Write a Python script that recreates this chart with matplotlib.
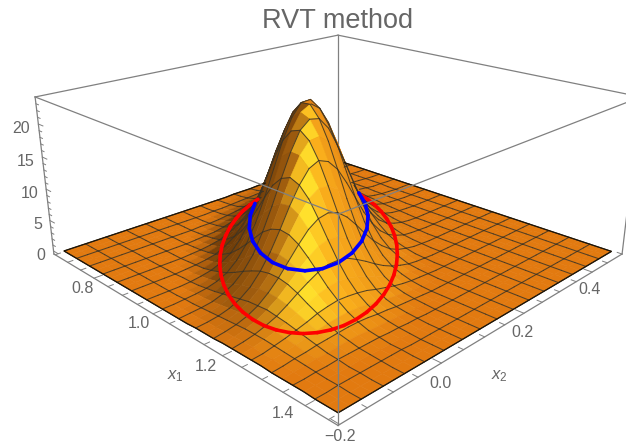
import matplotlib
matplotlib.use("Agg")
import matplotlib.pyplot as plt
import numpy as np
from matplotlib.colors import LinearSegmentedColormap
from mpl_toolkits.mplot3d import proj3d
from mpl_toolkits.mplot3d.art3d import Line3DCollection

plt.rcParams["font.family"] = ["Liberation Sans", "DejaVu Sans"]
plt.rcParams["mathtext.fontset"] = "custom"
plt.rcParams["mathtext.it"] = "Liberation Sans:italic"
plt.rcParams["mathtext.rm"] = "Liberation Sans"

# --- Data ---
x1_nodes = np.linspace(0.66, 1.455, 33)
x2_nodes = np.linspace(-0.19, 0.485, 33)

# heights on a grid of half mesh cells, rows go with x1, columns with x2.
# each row starts at column z_first[row], everything else on the row is flat (0)
z_first = [18, 16, 14, 13, 11, 10, 9, 8, 7, 6, 5, 4, 4, 3, 2, 2, 1, 1, 0, 0, 0, 0, 0, 0, 0, 0, 0, 0, 0, 0, 2, 0, 0]
z_rows = [
    [.1, .1, .1, .2, .2, .2, .2, .2, .1, .1, .1, .1],
    [.1, .1, .2, .2, .3, .3, .4, .4, .3, .3, .2, .2, .1, .1],
    [.1, .1, .2, .3, .4, .5, .6, .7, .7, .7, .6, .5, .4, .3, .2, .1, .1],
    [.1, .2, .3, .4, .6, .8, 1.0, 1.1, 1.2, 1.2, 1.1, .9, .7, .5, .4, .2, .1, .1],
    [.1, .1, .2, .4, .6, .9, 1.2, 1.5, 1.8, 1.9, 2.0, 1.8, 1.6, 1.3, 1.0, .7, .4, .3, .1, .1],
    [.1, .1, .3, .5, .8, 1.2, 1.7, 2.2, 2.6, 3.0, 3.1, 3.0, 2.7, 2.2, 1.7, 1.2, .8, .5, .3, .2, .1],
    [.1, .2, .3, .6, 1.0, 1.5, 2.2, 3.0, 3.7, 4.3, 4.6, 4.6, 4.3, 3.7, 2.9, 2.2, 1.5, .9, .6, .3, .2, .1],
    [.1, .2, .4, .7, 1.2, 1.9, 2.8, 3.8, 4.9, 5.9, 6.5, 6.7, 6.4, 5.7, 4.6, 3.5, 2.5, 1.6, 1.0, .6, .3, .1, .1],
    [.1, .2, .4, .7, 1.3, 2.1, 3.3, 4.7, 6.2, 7.7, 8.7, 9.2, 9.0, 8.2, 6.9, 5.4, 3.9, 2.7, 1.7, 1.0, .5, .3, .1, .1],
    [.1, .2, .4, .8, 1.4, 2.3, 3.7, 5.4, 7.4, 9.4, 11.0, 11.9, 12.1, 11.3, 9.8, 7.9, 5.9, 4.1, 2.6, 1.6, .9, .4, .2, .1],
    [.1, .2, .4, .7, 1.4, 2.4, 3.9, 5.9, 8.3, 10.8, 13.1, 14.6, 15.2, 14.6, 13.1, 10.8, 8.3, 5.9, 3.9, 2.4, 1.4, .7, .4, .2, .1],
    [.1, .1, .3, .7, 1.3, 2.3, 3.9, 6.1, 8.8, 11.8, 14.6, 16.9, 18.0, 17.9, 16.5, 14.1, 11.1, 8.2, 5.6, 3.5, 2.1, 1.1, .6, .3, .1],
    [.1, .3, .6, 1.2, 2.1, 3.7, 5.9, 8.8, 12.1, 15.5, 18.4, 20.2, 20.7, 19.6, 17.2, 14.0, 10.6, 7.4, 4.8, 2.9, 1.6, .8, .4, .2, .1],
    [.1, .2, .5, 1.0, 1.9, 3.3, 5.4, 8.3, 11.8, 15.5, 18.9, 21.4, 22.5, 21.9, 19.8, 16.6, 13.0, 9.4, 6.3, 3.9, 2.2, 1.2, .6, .3, .1],
    [.1, .2, .4, .8, 1.5, 2.8, 4.7, 7.4, 10.8, 14.6, 18.4, 21.4, 23.2, 23.3, 21.6, 18.7, 15.0, 11.1, 7.7, 4.9, 2.9, 1.6, .8, .4, .2, .1],
    [.1, .3, .6, 1.2, 2.2, 3.8, 6.2, 9.4, 13.1, 16.9, 20.2, 22.5, 23.3, 22.3, 19.8, 16.3, 12.5, 8.9, 5.8, 3.6, 2.0, 1.1, .5, .2, .1],
    [.1, .2, .4, .9, 1.7, 3.0, 4.9, 7.7, 11.0, 14.6, 18.0, 20.7, 21.9, 21.6, 19.8, 16.8, 13.2, 9.7, 6.5, 4.1, 2.4, 1.3, .7, .3, .1],
    [.1, .3, .6, 1.2, 2.2, 3.7, 5.9, 8.7, 11.9, 15.2, 17.9, 19.6, 19.8, 18.7, 16.3, 13.2, 9.9, 6.9, 4.5, 2.7, 1.5, .8, .4, .2, .1],
    [.1, .2, .4, .8, 1.5, 2.6, 4.3, 6.5, 9.2, 12.1, 14.6, 16.5, 17.2, 16.6, 15.0, 12.5, 9.7, 6.9, 4.6, 2.8, 1.6, .9, .4, .2, .1],
    [.1, .2, .5, 1.0, 1.8, 3.0, 4.6, 6.7, 9.0, 11.3, 13.1, 14.1, 14.0, 13.0, 11.1, 8.9, 6.5, 4.5, 2.8, 1.7, .9, .5, .2, .1],
    [.1, .3, .6, 1.1, 1.9, 3.1, 4.6, 6.4, 8.2, 9.8, 10.8, 11.1, 10.6, 9.4, 7.7, 5.8, 4.1, 2.7, 1.6, .9, .5, .2, .1],
    [.2, .3, .7, 1.2, 2.0, 3.0, 4.3, 5.7, 6.9, 7.9, 8.3, 8.2, 7.4, 6.3, 4.9, 3.6, 2.4, 1.5, .9, .5, .2, .1],
    [.2, .4, .7, 1.2, 1.8, 2.7, 3.7, 4.6, 5.4, 5.9, 5.9, 5.6, 4.8, 3.9, 2.9, 2.0, 1.3, .8, .4, .2, .1],
    [.2, .4, .7, 1.1, 1.6, 2.2, 2.9, 3.5, 3.9, 4.1, 3.9, 3.5, 2.9, 2.2, 1.6, 1.1, .7, .4, .2, .1],
    [.2, .3, .6, .9, 1.3, 1.7, 2.2, 2.5, 2.7, 2.6, 2.4, 2.1, 1.6, 1.2, .8, .5, .3, .2, .1],
    [.2, .3, .5, .7, 1.0, 1.2, 1.5, 1.6, 1.7, 1.6, 1.4, 1.1, .8, .6, .4, .2, .1, .1],
    [.1, .2, .4, .5, .7, .8, .9, 1.0, 1.0, .9, .7, .6, .4, .3, .2, .1],
    [.1, .2, .3, .4, .4, .5, .6, .6, .5, .4, .4, .3, .2, .1, .1],
    [.1, .1, .2, .2, .3, .3, .3, .3, .3, .2, .2, .1, .1],
    [.1, .1, .1, .1, .1, .2, .2, .1, .1, .1, .1],
    [.1, .1, .1, .1, .1, .1, .1],
    [],
    [],
]

red_x1 = [1.1425, 1.1743, 1.2034, 1.2292, 1.2514, 1.2696, 1.2834, 1.2927, 1.2972, 1.2971, 1.2919, 1.2822,
          1.2679, 1.2491, 1.2265, 1.2004, 1.1709, 1.1389, 1.1049, 1.0694, 1.0328, 0.9960, 0.9595, 0.9241,
          0.8900, 0.8582, 0.8291, 0.8033, 0.7811, 0.7629, 0.7491, 0.7398, 0.7353, 0.7354, 0.7406, 0.7503,
          0.7646, 0.7834, 0.8060, 0.8321, 0.8616, 0.8936, 0.9276, 0.9631, 0.9998, 1.0365, 1.0730, 1.1084, 1.1425]
red_x2 = [0.2209, 0.1918, 0.1617, 0.1306, 0.0993, 0.0681, 0.0378, 0.0089, -0.0185, -0.0436, -0.0658, -0.0850,
          -0.1011, -0.1132, -0.1216, -0.1260, -0.1260, -0.1222, -0.1143, -0.1025, -0.0870, -0.0681, -0.0461, -0.0213,
          0.0058, 0.0349, 0.0650, 0.0961, 0.1274, 0.1586, 0.1889, 0.2179, 0.2452, 0.2703, 0.2925, 0.3117,
          0.3278, 0.3399, 0.3483, 0.3527, 0.3527, 0.3489, 0.3410, 0.3292, 0.3137, 0.2948, 0.2728, 0.2480, 0.2209]
red_z = 1.0

blue_x1 = [1.1004, 1.1435, 1.1778, 1.2011, 1.2119, 1.2094, 1.1936, 1.1658, 1.1278, 1.0822, 1.0320, 0.9809,
           0.9321, 0.8890, 0.8547, 0.8314, 0.8206, 0.8231, 0.8389, 0.8667, 0.9047, 0.9503, 1.0004, 1.0516, 1.1004]
blue_x2 = [0.1851, 0.1434, 0.0999, 0.0572, 0.0183, -0.0141, -0.0378, -0.0512, -0.0534, -0.0442, -0.0243, 0.0049,
           0.0416, 0.0833, 0.1268, 0.1695, 0.2084, 0.2408, 0.2645, 0.2779, 0.2801, 0.2709, 0.2510, 0.2218, 0.1851]
blue_z = 5.8

x1_ticks = [0.8, 1.0, 1.2, 1.4]
x2_ticks = [-0.2, 0.0, 0.2, 0.4]
z_ticks = [0, 5, 10, 15, 20]

# --- View ---
x1_lim = (0.645, 1.47)
x2_lim = (-0.203, 0.5)
z_lim = (-0.5, 24.0)
elev, azim = 20.5, -45
box_h = 0.404
focal = 0.286
mesh_step = 2
grey = "#808080"
text_grey = "#666666"

fig = plt.figure(figsize=(6.3, 4.47), dpi=100)
ax = fig.add_axes([34 / 630, -35 / 447, 592 / 630, 592 / 447], projection="3d", computed_zorder=False)
ax.set_axis_off()
ax.set_proj_type("persp", focal_length=focal)
ax.view_init(elev=elev, azim=azim)
ax.set_box_aspect((1, 1, box_h))
ax.set_xlim(*x1_lim, view_margin=0)
ax.set_ylim(*x2_lim, view_margin=0)
ax.set_zlim(*z_lim, view_margin=0)

Z = np.zeros((len(x1_nodes), len(x2_nodes)))
for i, row in enumerate(z_rows):
    Z[i, z_first[i]:z_first[i] + len(row)] = row
X1, X2 = np.meshgrid(x1_nodes, x2_nodes, indexing="ij")

# world sizes of the box, needed for normals and the hidden line test
side = 0.648
x1_mid, x2_mid, z_mid = np.mean(x1_lim), np.mean(x2_lim), np.mean(z_lim)
x1_half, x2_half, z_half = np.ptp(x1_lim) / 2, np.ptp(x2_lim) / 2, np.ptp(z_lim) / 2


def to_box(x, y, z):
    return np.array([(x - x1_mid) / x1_half * side, (y - x2_mid) / x2_half * side, (z - z_mid) / z_half * side * box_h])


def height(x, y):
    i = np.clip(np.searchsorted(x1_nodes, x) - 1, 0, len(x1_nodes) - 2)
    j = np.clip(np.searchsorted(x2_nodes, y) - 1, 0, len(x2_nodes) - 2)
    a = (x - x1_nodes[i]) / (x1_nodes[i + 1] - x1_nodes[i])
    b = (y - x2_nodes[j]) / (x2_nodes[j + 1] - x2_nodes[j])
    if a < 0 or a > 1 or b < 0 or b > 1:
        return -1.0
    return (Z[i, j] * (1 - a) * (1 - b) + Z[i + 1, j] * a * (1 - b) + Z[i, j + 1] * (1 - a) * b + Z[i + 1, j + 1] * a * b)


dist = 10 * focal
eye = dist * np.array([np.cos(np.radians(elev)) * np.cos(np.radians(azim)),
                       np.cos(np.radians(elev)) * np.sin(np.radians(azim)),
                       np.sin(np.radians(elev))])


def hidden(x, y, z):
    p = to_box(x, y, z)
    for t in np.linspace(0.01, 0.5, 70):
        q = p + t * (eye - p)
        xq = q[0] / side * x1_half + x1_mid
        yq = q[1] / side * x2_half + x2_mid
        zq = q[2] / (side * box_h) * z_half + z_mid
        if zq < height(xq, yq) - 0.3:
            return True
    return False


def visible_segments(xs, ys, zs):
    segs = []
    for k in range(len(xs) - 1):
        if not hidden((xs[k] + xs[k + 1]) / 2, (ys[k] + ys[k + 1]) / 2, (zs[k] + zs[k + 1]) / 2):
            segs.append([(xs[k], ys[k], zs[k]), (xs[k + 1], ys[k + 1], zs[k + 1])])
    return segs


def blur(a):
    # soften the colours a little, the heights are rounded to 0.1
    p = np.pad(a, 1, mode="edge")
    return (p[:-2, :-2] + p[:-2, 1:-1] + p[:-2, 2:] + p[1:-1, :-2] + p[1:-1, 1:-1] + p[1:-1, 2:]
            + p[2:, :-2] + p[2:, 1:-1] + p[2:, 2:]) / 9


# --- Shading ---
wx = X1 / x1_half * side
wy = X2 / x2_half * side
wz = Z / z_half * side * box_h
dzx = np.gradient(wz, wx[:, 0], axis=0)
dzy = np.gradient(wz, wy[0, :], axis=1)
dzx = blur((dzx[:-1, :-1] + dzx[1:, :-1] + dzx[:-1, 1:] + dzx[1:, 1:]) / 4)
dzy = blur((dzy[:-1, :-1] + dzy[1:, :-1] + dzy[:-1, 1:] + dzy[1:, 1:]) / 4)
norm = np.sqrt(dzx ** 2 + dzy ** 2 + 1)
nx, ny = -dzx / norm, -dzy / norm
n_side = (nx + ny) / np.sqrt(2)
n_front = (nx - ny) / np.sqrt(2)
angle = np.arctan2(n_side, n_front) / np.pi
flat = np.array([226, 122, 16]) / 255
shade = LinearSegmentedColormap.from_list("shade", [
    (0.0, "#8a4c0c"), (0.25, "#6b3a08"), (0.36, "#a8620f"), (0.44, "#f2b820"), (0.52, "#ffe12c"),
    (0.62, "#fbb01c"), (0.75, "#e88a16"), (1.0, "#8a4c0c")])
rgb = shade((angle + 1) / 2)[..., :3]
blend = np.clip((np.sqrt(nx ** 2 + ny ** 2) - 0.05) / 0.4, 0, 1)[..., None]
face = flat * (1 - blend) + rgb * blend


# --- Back of the box ---
def box_line(p, q, zorder, lw=0.9):
    ax.plot([p[0], q[0]], [p[1], q[1]], [p[2], q[2]], color=grey, lw=lw, zorder=zorder)


x0, x9 = x1_lim
y0, y9 = x2_lim
z0, z9 = z_lim
box_line((x0, y9, z0), (x0, y9, z9), 1)
box_line((x0, y9, z9), (x0, y0, z9), 1)
box_line((x0, y9, z9), (x9, y9, z9), 1)
box_line((x0, y0, z0), (x0, y0, z9), 1)
box_line((x9, y9, z0), (x9, y9, z9), 1)

# --- Surface ---
ax.plot_surface(X1, X2, Z, facecolors=face, shade=False, rstride=1, cstride=1, linewidth=0.4,
                antialiased=True, zorder=2)

mesh = []
for i in range(0, len(x1_nodes), mesh_step):
    mesh += visible_segments(X1[i, :], X2[i, :], Z[i, :])
for j in range(0, len(x2_nodes), mesh_step):
    mesh += visible_segments(X1[:, j], X2[:, j], Z[:, j])
ax.add_collection3d(Line3DCollection(mesh, colors="#3a3325", linewidths=0.75, alpha=0.85, capstyle="round", zorder=3),
                    autolim=False)

rim = []
rim += visible_segments(X1[0, :], X2[0, :], Z[0, :])
rim += visible_segments(X1[-1, :], X2[-1, :], Z[-1, :])
rim += visible_segments(X1[:, 0], X2[:, 0], Z[:, 0])
rim += visible_segments(X1[:, -1], X2[:, -1], Z[:, -1])
ax.add_collection3d(Line3DCollection(rim, colors="#1c1408", linewidths=0.9, zorder=3), autolim=False)

# --- Rings ---
red_segs = visible_segments(red_x1, red_x2, [red_z] * len(red_x1))
blue_segs = visible_segments(blue_x1, blue_x2, [blue_z] * len(blue_x1))
ax.add_collection3d(Line3DCollection(red_segs, colors="#ff0000", linewidths=2.6, capstyle="round", zorder=4), autolim=False)
ax.add_collection3d(Line3DCollection(blue_segs, colors="#0000ff", linewidths=2.6, capstyle="round", zorder=4), autolim=False)

# --- Front of the box ---
box_line((x9, y0, z0), (x9, y0, z9), 5)
box_line((x9, y0, z9), (x0, y0, z9), 5)
box_line((x9, y0, z9), (x9, y9, z9), 5)
box_line((x0, y0, z0), (x9, y0, z0), 5)
box_line((x9, y0, z0), (x9, y9, z0), 5)

# ticks on the three axes, five minor steps per label on z, four on x1 and x2
for t in np.arange(0.65, 1.46, 0.05):
    major = round(t, 2) in x1_ticks
    box_line((t, y0, z0), (t, y0 + (0.016 if major else 0.01), z0), 5, 0.7)
for t in np.arange(-0.2, 0.501, 0.05):
    major = round(t, 2) in x2_ticks
    box_line((x9, t, z0), (x9 - (0.018 if major else 0.011), t, z0), 5, 0.7)
for t in np.arange(0, 24, 1):
    major = t in z_ticks
    box_line((x0, y0, t), (x0 + (0.018 if major else 0.01), y0, t), 5, 0.7)

# tick labels sit a few pixels away from their ticks
proj = ax.get_proj()


def tick_label(x, y, z, text, dx, dy, ha="center"):
    u, v, _ = proj3d.proj_transform(x, y, z, proj)
    ax.annotate(text, xy=(u, v), xycoords="data", xytext=(dx, dy), textcoords="offset pixels", color=text_grey,
                fontsize=11.5, ha=ha, va="center", annotation_clip=False, zorder=6)


x1_label_dx = [-11, -14, -17, -22]
x1_label_dy = [-10, -10, -11, -8]
for t, dx, dy in zip(x1_ticks, x1_label_dx, x1_label_dy):
    tick_label(t, y0, z0, f"{t:.1f}", dx, dy)
x2_label_dx = [0, -1, -1, -3]
x2_label_dy = [-12, -20, -19, -17]
for t, dx, dy in zip(x2_ticks, x2_label_dx, x2_label_dy):
    tick_label(x9, t, z0, f"{t:.1f}".replace("-", "\u2212"), dx, dy)
for t in z_ticks:
    tick_label(x0, y0, t, str(t), -8, -4, ha="right")

fig.text(338 / 630, 1 - 21 / 447, "RVT method", color=text_grey, fontsize=19.5, ha="center", va="center")
fig.text(175 / 630, 1 - 376 / 447, r"$x_1$", color=text_grey, fontsize=12, ha="center", va="center")
fig.text(499 / 630, 1 - 376 / 447, r"$x_2$", color=text_grey, fontsize=12, ha="center", va="center")

fig.savefig("out.png", dpi=100)
